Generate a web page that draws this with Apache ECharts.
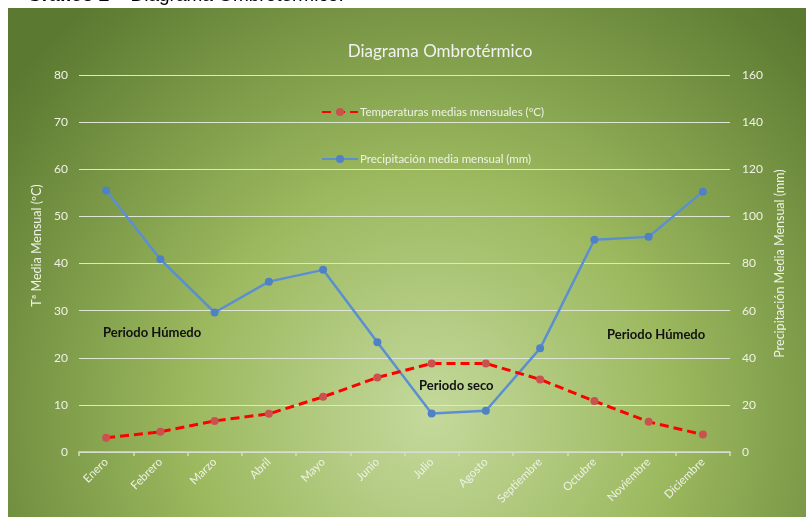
<!DOCTYPE html>
<html>
<head>
<meta charset="utf-8">
<title>Diagrama Ombrotérmico</title>
<script src="https://cdn.jsdelivr.net/npm/echarts@6/dist/echarts.min.js"></script>
<style>
	html, body { margin: 0; padding: 0; background: #fff; }
	#main { width: 806px; height: 517px; }
</style>
</head>
<body>
<div id="main"></div>
<script>
// meses
var meses = ['Enero', 'Febrero', 'Marzo', 'Abril', 'Mayo', 'Junio', 'Julio', 'Agosto', 'Septiembre', 'Octubre', 'Noviembre', 'Diciembre'];
// temperaturas medias mensuales (ºC)
var temperaturas = [3.0, 4.3, 6.6, 8.1, 11.7, 15.8, 18.8, 18.8, 15.4, 10.8, 6.4, 3.7];
// precipitación media mensual (mm)
var precipitaciones = [111.0, 81.8, 59.2, 72.3, 77.3, 46.6, 16.3, 17.5, 44.0, 90.1, 91.3, 110.5];
// escalas de los ejes
var ejeTemp = [0, 80, 10];
var ejePrec = [0, 160, 20];

var fuente = 'Lato, "Open Sans", sans-serif';
var blanco = '#eef2e6';

var chart = echarts.init(document.getElementById('main'));

var option = {
	backgroundColor: '#ffffff',
	animation: false,
	title: {
		text: 'Diagrama Ombrotérmico',
		left: 435,
		top: 38,
		textAlign: 'center',
		textStyle: {
			color: '#f2f2f2',
			fontFamily: fuente,
			fontSize: 17,
			fontWeight: 'normal'
		}
	},
	legend: {
		orient: 'vertical',
		left: 316,
		top: 101,
		itemWidth: 36,
		itemHeight: 10,
		itemGap: 35,
		data: ['Temperaturas medias mensuales (ºC)', 'Precipitación media mensual (mm)'],
		textStyle: {
			color: blanco,
			fontFamily: fuente,
			fontSize: 11.5,
			padding: [0, 0, 0, -3]
		}
	},
	grid: {
		left: 79,
		right: 76,
		top: 75,
		bottom: 65
	},
	xAxis: {
		type: 'category',
		boundaryGap: true,
		data: meses,
		axisLine: { lineStyle: { color: '#d6dccb', width: 1.5 } },
		axisTick: { show: true, length: 4, lineStyle: { color: '#d6dccb', width: 1.5 } },
		axisLabel: {
			rotate: 45,
			margin: 8,
			color: blanco,
			fontFamily: fuente,
			fontSize: 11.5
		}
	},
	yAxis: [{
			type: 'value',
			min: ejeTemp[0],
			max: ejeTemp[1],
			interval: ejeTemp[2],
			name: 'Tª Media Mensual (ºC)',
			nameLocation: 'middle',
			nameGap: 36,
			nameTextStyle: { color: blanco, fontFamily: fuente, fontSize: 12.5, padding: [0, 0, 0, 36] },
			axisLine: { show: false },
			axisTick: { show: false },
			axisLabel: { color: blanco, fontFamily: fuente, fontSize: 12, margin: 11 },
			splitLine: { lineStyle: { color: '#dfe5d3', width: 1.2 } }
		},
		{
			type: 'value',
			position: 'right',
			min: ejePrec[0],
			max: ejePrec[1],
			interval: ejePrec[2],
			name: 'Precipitación Media Mensual (mm)',
			nameLocation: 'middle',
			nameGap: 43,
			nameTextStyle: { color: blanco, fontFamily: fuente, fontSize: 12.5 },
			axisLine: { show: false },
			axisTick: { show: false },
			axisLabel: { color: blanco, fontFamily: fuente, fontSize: 12, margin: 12 },
			splitLine: { show: false }
		}
	],
	graphic: [{
			// título de la figura, cortado arriba
			type: 'text',
			z: -200,
			style: {
				x: 27,
				y: 5,
				text: '{b|Gráfico 2} – Diagrama Ombrotérmico.',
				font: '19px "Liberation Sans", Arial, sans-serif',
				fill: '#000',
				textVerticalAlign: 'bottom',
				rich: {
					b: { fontWeight: 'bold', fontSize: 19, fontFamily: '"Liberation Sans", Arial, sans-serif' }
				}
			}
		},
		{
			// fondo verde
			type: 'rect',
			z: -100,
			shape: { x: 8, y: 8, width: 798, height: 509 },
			style: {
				fill: {
					type: 'radial',
					x: 0.53,
					y: 0.8,
					r: 1.05,
					colorStops: [
						{ offset: 0, color: '#c4d99c' },
						{ offset: 0.45, color: '#9cb95f' },
						{ offset: 1, color: '#5b7930' }
					]
				}
			}
		},
		{
			type: 'text',
			z: 100,
			style: { x: 103, y: 333, text: 'Periodo Húmedo', font: 'bold 13px Lato, sans-serif', fill: '#111', textVerticalAlign: 'middle' }
		},
		{
			type: 'text',
			z: 100,
			style: { x: 419, y: 386, text: 'Periodo seco', font: 'bold 13px Lato, sans-serif', fill: '#111', textVerticalAlign: 'middle' }
		},
		{
			type: 'text',
			z: 100,
			style: { x: 607, y: 335, text: 'Periodo Húmedo', font: 'bold 13px Lato, sans-serif', fill: '#111', textVerticalAlign: 'middle' }
		}
	],
	series: [{
			name: 'Temperaturas medias mensuales (ºC)',
			type: 'line',
			yAxisIndex: 0,
			data: temperaturas,
			symbol: 'circle',
			symbolSize: 8,
			itemStyle: { color: '#c9524f' },
			lineStyle: { color: '#ff0000', width: 3, type: [9, 5] },
			z: 3
		},
		{
			name: 'Precipitación media mensual (mm)',
			type: 'line',
			yAxisIndex: 1,
			data: precipitaciones,
			symbol: 'circle',
			symbolSize: 8,
			itemStyle: { color: '#4f81c7' },
			lineStyle: { color: '#5b8fd2', width: 2.5 },
			z: 2
		}
	]
};

chart.setOption(option);
</script>
</body>
</html>
